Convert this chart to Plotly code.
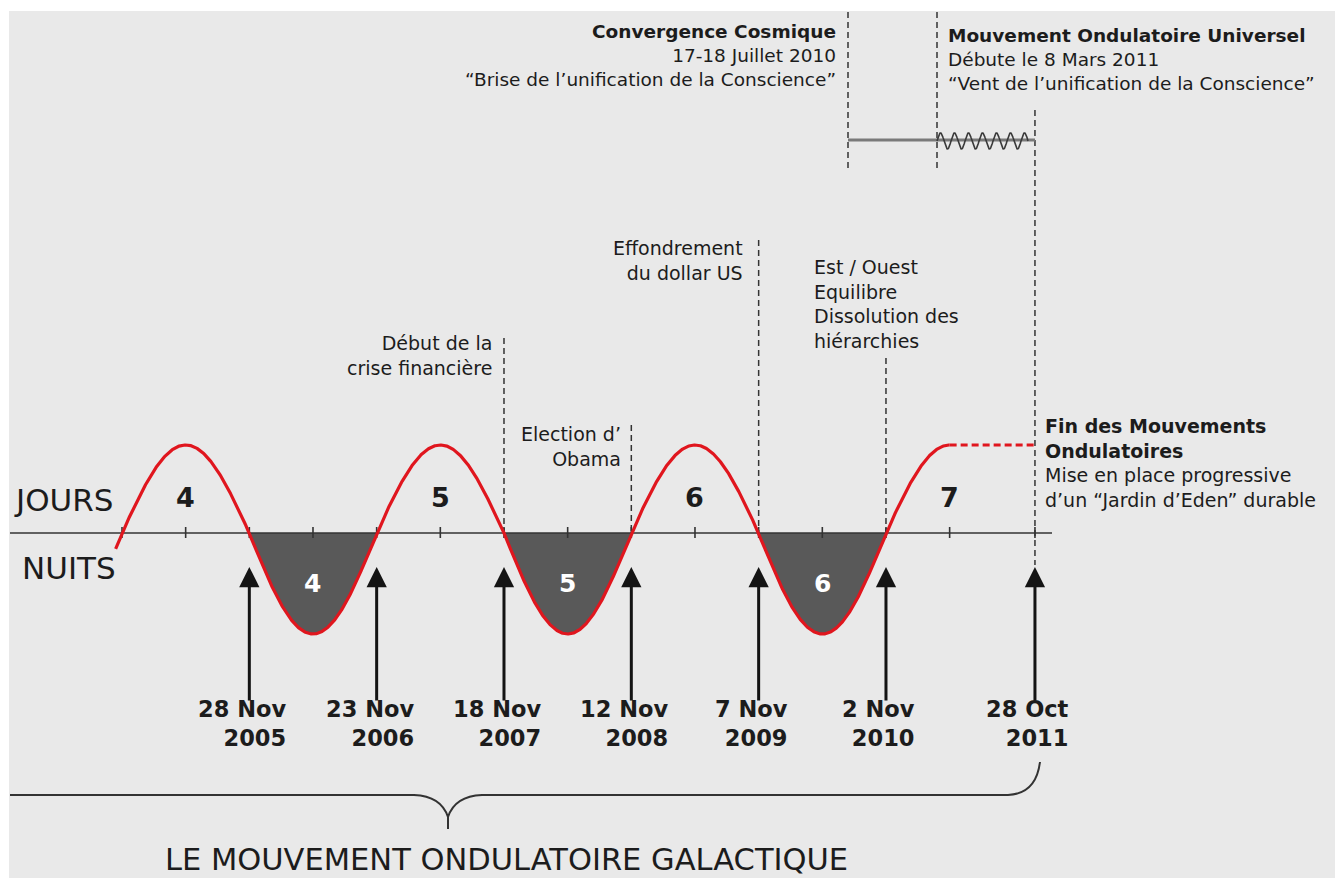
import numpy as np
import plotly.graph_objects as go

# ---------------- data ----------------
day_numbers = [4, 5, 6, 7]
day_peak_pos = [0.5, 2.5, 4.5, 6.5]          # half-cycle units
night_numbers = [4, 5, 6]
night_trough_pos = [1.5, 3.5, 5.5]
crossing_pos = [1, 2, 3, 4, 5, 6, 7.17]
crossing_labels = ["28 Nov<br>2005", "23 Nov<br>2006", "18 Nov<br>2007", "12 Nov<br>2008",
                   "7 Nov<br>2009", "2 Nov<br>2010", "28 Oct<br>2011"]
tick_pos = [0, 0.5, 1, 1.5, 2, 2.5, 3, 3.5, 4, 4.5, 5, 5.5, 6, 6.5, 7.17]
day_amplitude = 88
night_amplitude = 101
wave_start = -0.05
wave_end = 6.5
plateau_end = 7.17
squiggle_cycles = 6.5

# ---------------- layout helpers (pixel -> data) ----------------
W, Hgt = 1335, 878
X0_PX, UNIT_PX, AXIS_PY = 122.0, 127.33, 533.0
def X(px):
    return (px - X0_PX) / UNIT_PX
def Y(py):
    return AXIS_PY - py

FONT = "DejaVu Sans"
INK = "#1c1c1c"
RED = "#e0161e"
DASH = "6px,4px"

fig = go.Figure()

# night fills
for k in [1, 3, 5]:
    t = np.linspace(k, k + 1, 200)
    y = night_amplitude * np.sin(np.pi * t)
    fig.add_trace(go.Scatter(x=t, y=y, mode="lines", fill="toself", fillcolor="#595959",
                             line=dict(width=0), hoverinfo="skip", showlegend=False))

# axis line
fig.add_trace(go.Scatter(x=[X(10), X(1052)], y=[0, 0], mode="lines",
                         line=dict(color="#333333", width=1.6), hoverinfo="skip", showlegend=False))
# ticks
tx, ty = [], []
for p in tick_pos:
    tx += [p, p, None]
    ty += [-5, 6, None]
fig.add_trace(go.Scatter(x=tx, y=ty, mode="lines", line=dict(color="#333333", width=1.6),
                         hoverinfo="skip", showlegend=False))

# dashed event lines (x, top, bottom in px-space)
event_lines = [(3.0, 338, 533), (4.0, 425, 533), (5.0, 240, 533), (6.0, 358, 533),
               (X(848), 12, 168), (X(937), 12, 168), (plateau_end, 110, 565)]
for xx, top, bot in event_lines:
    fig.add_trace(go.Scatter(x=[xx, xx], y=[Y(top), Y(bot)], mode="lines",
                             line=dict(color="#333333", width=1.5, dash=DASH),
                             hoverinfo="skip", showlegend=False))

# gray connector and squiggle at top
fig.add_trace(go.Scatter(x=[X(848), plateau_end], y=[Y(140), Y(140)], mode="lines",
                         line=dict(color="#7a7a7a", width=3), hoverinfo="skip", showlegend=False))
ts = np.linspace(0, 1, 300)
sx = X(937) + (X(1028) - X(937)) * ts
sy = Y(141) + 8 * np.sin(2 * np.pi * squiggle_cycles * ts)
fig.add_trace(go.Scatter(x=sx, y=sy, mode="lines", line=dict(color="#3a3a3a", width=1.6),
                         hoverinfo="skip", showlegend=False))

# the wave
t = np.linspace(wave_start, wave_end, 2000)
s = np.sin(np.pi * t)
y = np.where(s > 0, day_amplitude * s, night_amplitude * s)
fig.add_trace(go.Scatter(x=t, y=y, mode="lines", line=dict(color=RED, width=3.2),
                         hoverinfo="skip", showlegend=False))
fig.add_trace(go.Scatter(x=[wave_end, plateau_end], y=[day_amplitude, day_amplitude], mode="lines",
                         line=dict(color=RED, width=3, dash="7px,4px"), hoverinfo="skip", showlegend=False))

ann = []
# arrows
for p in crossing_pos:
    ann.append(dict(x=p, y=Y(567), ax=p, ay=Y(702), xref="x", yref="y", axref="x", ayref="y",
                    showarrow=True, arrowhead=2, arrowsize=1.35, arrowwidth=3, arrowcolor="#141414",
                    text="", standoff=0))
# date labels
for p, lab in zip(crossing_pos, crossing_labels):
    ann.append(dict(x=p, y=Y(723), xref="x", yref="y", text="<b>%s</b>" % lab, showarrow=False,
                    xanchor="center", yanchor="middle", align="right", xshift=-7,
                    font=dict(family=FONT, size=22.5, color=INK)))
# day / night numbers
for p, n in zip(day_peak_pos, day_numbers):
    ann.append(dict(x=p, y=Y(497), xref="x", yref="y", text="<b>%d</b>" % n, showarrow=False,
                    font=dict(family=FONT, size=27, color=INK)))
for p, n in zip(night_trough_pos, night_numbers):
    ann.append(dict(x=p, y=Y(583), xref="x", yref="y", text="<b>%d</b>" % n, showarrow=False,
                    font=dict(family=FONT, size=25, color="white")))

def txt(px, py, text, xanchor, size=19, align=None):
    ann.append(dict(x=X(px), y=Y(py), xref="x", yref="y", text=text, showarrow=False,
                    xanchor=xanchor, yanchor="middle", align=align or xanchor,
                    font=dict(family=FONT, size=size, color=INK)))

txt(12, 500, "JOURS", "left", size=31)
txt(20, 568, "NUITS", "left", size=31)
txt(838, 55, "<b>Convergence Cosmique</b><br>17-18 Juillet 2010<br>“Brise de l’unification de la Conscience”", "right", 18.5)
txt(946, 59, "<b>Mouvement Ondulatoire Universel</b><br>Débute le 8 Mars 2011<br>“Vent de l’unification de la Conscience”", "left", 18.5)
txt(745, 260, "Effondrement<br>du dollar US", "right")
txt(812, 304, "Est / Ouest<br>Equilibre<br>Dissolution des<br>hiérarchies", "left")
txt(494, 355, "Début de la<br>crise financière", "right")
txt(623, 446, "Election d’<br>Obama", "right")
txt(1043, 463, "<b>Fin des Mouvements</b><br><b>Ondulatoires</b><br>Mise en place progressive<br>d’un “Jardin d’Eden” durable", "left")
txt(163, 859, "LE MOUVEMENT ONDULATOIRE GALACTIQUE", "left", size=30.5)

# brace
def P(px, py):
    return "%.4f,%.2f" % (X(px), Y(py))
brace = ("M" + P(10, 795) + " L" + P(414, 795) + " Q" + P(441, 796) + " " + P(448, 817) +
         " L" + P(448, 829) + " M" + P(448, 817) + " Q" + P(455, 796) + " " + P(482, 795) +
         " L" + P(1008, 795) + " Q" + P(1036, 794) + " " + P(1040, 762))
shapes = [
    dict(type="rect", xref="paper", yref="paper", x0=9 / W, x1=1, y0=0, y1=1 - 11 / Hgt,
         fillcolor="#e9e9e9", line=dict(width=0), layer="below"),
    dict(type="path", xref="x", yref="y", path=brace, line=dict(color="#333333", width=2)),
]

fig.update_layout(
    width=W, height=Hgt, margin=dict(l=0, r=0, t=0, b=0),
    paper_bgcolor="white", plot_bgcolor="rgba(0,0,0,0)",
    xaxis=dict(range=[X(0), X(W)], visible=False, fixedrange=True),
    yaxis=dict(range=[Y(Hgt), Y(0)], visible=False, fixedrange=True),
    annotations=ann, shapes=shapes, showlegend=False,
)

fig.write_html("out.html", config={"displayModeBar": False},
               post_script="document.body.style.margin='0px';document.body.style.overflow='hidden';")
